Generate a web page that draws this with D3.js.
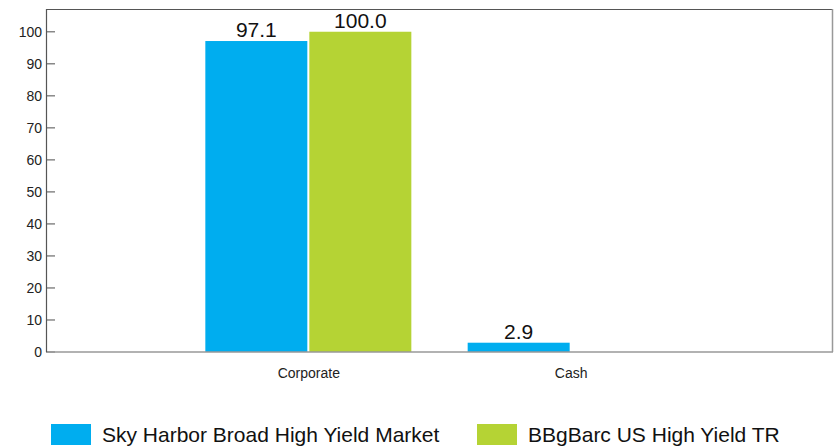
<!DOCTYPE html>
<html>
<head>
<meta charset="utf-8">
<script src="https://cdn.jsdelivr.net/npm/d3@7"></script>
<style>
  body { margin: 0; background: #fff; }
  svg { display: block; font-family: "Liberation Sans", Arial, sans-serif; }
</style>
</head>
<body>
<script>
var width = 834;
var height = 447;

var categories = ["Corporate", "Cash"];
var seriesNames = ["Sky Harbor Broad High Yield Market", "BBgBarc US High Yield TR"];
var skyHarbor = [97.1, 2.9];
var bbgBarc = [100.0, null];
var yTicks = [0, 10, 20, 30, 40, 50, 60, 70, 80, 90, 100];
var colors = ["#00adef", "#b5d334"];

var plotLeft = 46, plotRight = 833, plotTop = 9, plotBottom = 352;
var barWidth = 102, barGap = 2;

var svg = d3.select("body").append("svg").attr("width", width).attr("height", height);

var x = d3.scalePoint().domain(categories).range([plotLeft, plotRight]).padding(1);
var y = d3.scaleLinear().domain([0, 107.1]).range([plotBottom, plotTop]);

// frame
svg.append("line").attr("x1", plotLeft).attr("x2", plotRight).attr("y1", plotTop + 0.5).attr("y2", plotTop + 0.5)
    .attr("stroke", "#555").attr("stroke-width", 1.2);
svg.append("line").attr("x1", plotRight - 0.5).attr("x2", plotRight - 0.5).attr("y1", plotTop).attr("y2", plotBottom)
    .attr("stroke", "#999").attr("stroke-width", 1.5);

// y axis
var yAxis = d3.axisLeft(y).tickValues(yTicks).tickSize(0).tickPadding(4);
var gy = svg.append("g").attr("transform", "translate(" + plotLeft + ",0)").call(yAxis);
gy.select(".domain").remove();
gy.selectAll("text").attr("font-size", "14px").attr("fill", "#222")
    .attr("font-family", "Liberation Sans, Arial, sans-serif");
svg.selectAll("line.tk").data(yTicks).enter().append("line").attr("class", "tk")
    .attr("x1", plotLeft).attr("x2", plotLeft + 9)
    .attr("y1", function (d) { return y(d); }).attr("y2", function (d) { return y(d); })
    .attr("stroke", "#888").attr("stroke-width", 1.5);

var series = [skyHarbor, bbgBarc];
series.forEach(function (vals, si) {
    var data = categories.map(function (c, i) { return { cat: c, v: vals[i] }; })
        .filter(function (d) { return d.v != null; });
    var xpos = function (d) {
        return si === 0 ? x(d.cat) - barWidth - barGap / 2 : x(d.cat) + barGap / 2;
    };
    svg.selectAll("rect.s" + si).data(data).enter().append("rect").attr("class", "s" + si)
        .attr("x", xpos)
        .attr("y", function (d) { return y(d.v); })
        .attr("width", barWidth)
        .attr("height", function (d) { return plotBottom - y(d.v); })
        .attr("fill", colors[si]);
    svg.selectAll("text.l" + si).data(data).enter().append("text").attr("class", "l" + si)
        .attr("x", function (d) { return xpos(d) + barWidth / 2; })
        .attr("y", function (d) { return y(d.v) - 4; })
        .attr("text-anchor", "middle").attr("font-size", "21px").attr("fill", "#111")
        .text(function (d) { return d.v.toFixed(1); });
});

// axis lines
svg.append("line").attr("x1", plotLeft).attr("x2", plotRight).attr("y1", plotBottom).attr("y2", plotBottom)
    .attr("stroke", "#999").attr("stroke-width", 1.5);
svg.append("line").attr("x1", plotLeft + 0.5).attr("x2", plotLeft + 0.5).attr("y1", plotTop).attr("y2", plotBottom)
    .attr("stroke", "#555").attr("stroke-width", 1.2);

// x axis labels
var xAxis = d3.axisBottom(x).tickSize(0).tickPadding(16);
var gx = svg.append("g").attr("transform", "translate(0," + plotBottom + ")").call(xAxis);
gx.select(".domain").remove();
gx.selectAll("text").attr("font-size", "14px").attr("fill", "#222")
    .attr("font-family", "Liberation Sans, Arial, sans-serif");

// legend
var legendX = [51, 477];
var lg = svg.selectAll("g.legend").data(seriesNames).enter().append("g").attr("class", "legend")
    .attr("transform", function (d, i) { return "translate(" + legendX[i] + ",424)"; });
lg.append("rect").attr("width", 40).attr("height", 21).attr("fill", function (d, i) { return colors[i]; });
lg.append("text").attr("x", 51).attr("y", 18).attr("font-size", "21px").attr("fill", "#111")
    .text(function (d) { return d; });
</script>
</body>
</html>
